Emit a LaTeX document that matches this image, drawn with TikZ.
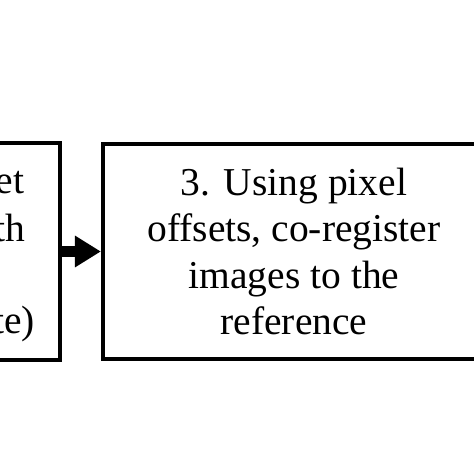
\documentclass[tikz,border=0pt]{standalone}
\usepackage{fontspec}
\setmainfont{Liberation Serif}
\usetikzlibrary{arrows.meta}
\begin{document}
\begin{tikzpicture}[x=1pt,y=-1pt,
  box/.style={draw=black, line width=4.2pt, rectangle, align=center,
    font=\fontsize{39.5}{46.4}\selectfont, inner sep=0pt},
  frag/.style={anchor=base east, font=\fontsize{39.5}{46.4}\selectfont, inner sep=0pt},
  conn/.style={draw=black, line width=10.5pt, -{Triangle[length=26pt,width=30pt]}}]
\fill[white] (0,0) rectangle (474,474);
\useasboundingbox (0,0) rectangle (474,474);
\begin{scope}
\clip (0,0) rectangle (474,474);
\node[box, minimum width=382pt, minimum height=217pt] (b2) at (-131,251.5) {};
\node[box, minimum width=382pt, minimum height=215pt] (b3) at (294,251.5)
  {3. Using pixel\\offsets, co-register\\images to the\\reference};
\node[frag] (f1) at (24.5,193.5) {et};
\node[frag] (f2) at (25,241) {th};
\node[frag] (f3) at (35,333) {te)};
\draw[conn] (b2.east) -- (b3.west);
\end{scope}
\end{tikzpicture}
\end{document}
